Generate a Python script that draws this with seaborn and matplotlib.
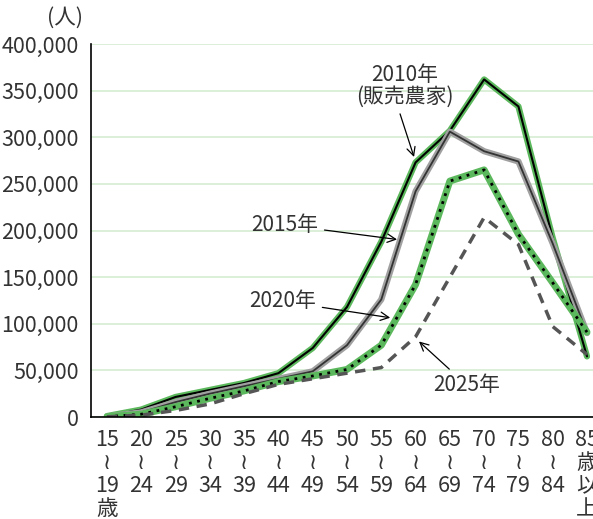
import numpy as np
import pandas as pd
import matplotlib
matplotlib.use("Agg")
import matplotlib.pyplot as plt
import seaborn as sns

sns.set_style("white")
plt.rcParams['font.family'] = ['Noto Sans CJK JP', 'DejaVu Sans']

ages = ["15\n≀\n19\n歳", "20\n≀\n24", "25\n≀\n29", "30\n≀\n34", "35\n≀\n39",
        "40\n≀\n44", "45\n≀\n49", "50\n≀\n54", "55\n≀\n59", "60\n≀\n64",
        "65\n≀\n69", "70\n≀\n74", "75\n≀\n79", "80\n≀\n84", "85\n歳\n以\n上"]

y2010 = [1000, 8000, 21500, 29000, 36500, 47000, 74000, 118000, 188000, 273000,
         307000, 362000, 333000, 192000, 65000]
y2015 = [500, 5000, 16000, 25000, 33000, 41000, 49000, 77000, 126000, 242000,
         306000, 285000, 274000, 186000, 90000]
y2020 = [300, 3000, 11000, 20000, 28000, 38000, 44000, 51000, 77000, 142000,
         253000, 265000, 196000, 144000, 91000]
y2025 = [200, 2000, 7000, 14000, 25000, 35000, 41000, 47000, 53000, 86000,
         150000, 214000, 185000, 97000, 67000]

pos = np.arange(len(ages))
df = pd.DataFrame({"pos": pos, "2010": y2010, "2015": y2015,
                   "2020": y2020, "2025": y2025})

green = "#5cb85c"

fig = plt.figure(figsize=(5.93, 5.19), dpi=100)
ax = fig.add_axes([91/593, 1 - 417/519, 502/593, 373/519])

# 2010: green with black core
sns.lineplot(data=df, x="pos", y="2010", ax=ax, color=green, lw=4.5)
sns.lineplot(data=df, x="pos", y="2010", ax=ax, color="black", lw=1.5)
# 2015: gray with dark core
sns.lineplot(data=df, x="pos", y="2015", ax=ax, color="#a0a0a0", lw=4.5)
sns.lineplot(data=df, x="pos", y="2015", ax=ax, color="#333333", lw=1.3)
# 2020: green thick with black dots
sns.lineplot(data=df, x="pos", y="2020", ax=ax, color=green, lw=5)
ax.plot(df["pos"], df["2020"], color="black", lw=2, ls=(0, (1, 2)))
# 2025: gray dashed
ax.plot(df["pos"], df["2025"], color="#555555", lw=2.5, ls=(0, (3, 2.2)))

ax.set_xlim(-0.467, 14.175)
ax.set_ylim(0, 400000)
ax.set_yticks(np.arange(0, 400001, 50000))
ax.set_yticklabels([f"{v:,}" for v in range(0, 400001, 50000)])
ax.set_xticks(pos)
ax.set_xticklabels(ages, linespacing=1.05)
ax.grid(axis="y", color="#d6ecd2", lw=1.2)
ax.set_axisbelow(True)
for s in ["top", "right"]:
    ax.spines[s].set_visible(False)
for s in ["left", "bottom"]:
    ax.spines[s].set_color("black")
    ax.spines[s].set_linewidth(1.2)
ax.tick_params(axis="both", direction="in", length=7, width=1.2,
               labelsize=15.5, colors="black", labelcolor="#333333")
ax.tick_params(axis="y", pad=9)
ax.tick_params(axis="x", pad=9)
ax.set_xlabel("")
ax.set_ylabel("")

ax.text(-0.052, 1.07, "(人)", transform=ax.transAxes, fontsize=15.5,
        color="#333333", ha="center", va="center")

arrow = dict(arrowstyle="->", color="black", lw=0.9)
ax.annotate("2010年\n(販売農家)", xy=(8.98, 276000), xytext=(8.69, 355000),
            ha="center", va="center", fontsize=15, color="#333333",
            linespacing=1.0, arrowprops=dict(arrow, relpos=(0.43, 0)))
ax.annotate("2015年", xy=(8.54, 190000), xytext=(5.19, 206000),
            ha="center", va="center", fontsize=15, color="#333333",
            arrowprops=arrow)
ax.annotate("2020年", xy=(8.34, 106000), xytext=(5.13, 124000),
            ha="center", va="center", fontsize=15, color="#333333",
            arrowprops=arrow)
ax.annotate("2025年", xy=(9.04, 83000), xytext=(10.5, 34000),
            ha="center", va="center", fontsize=15, color="#333333",
            arrowprops=arrow)

fig.savefig("out.png", dpi=100)
